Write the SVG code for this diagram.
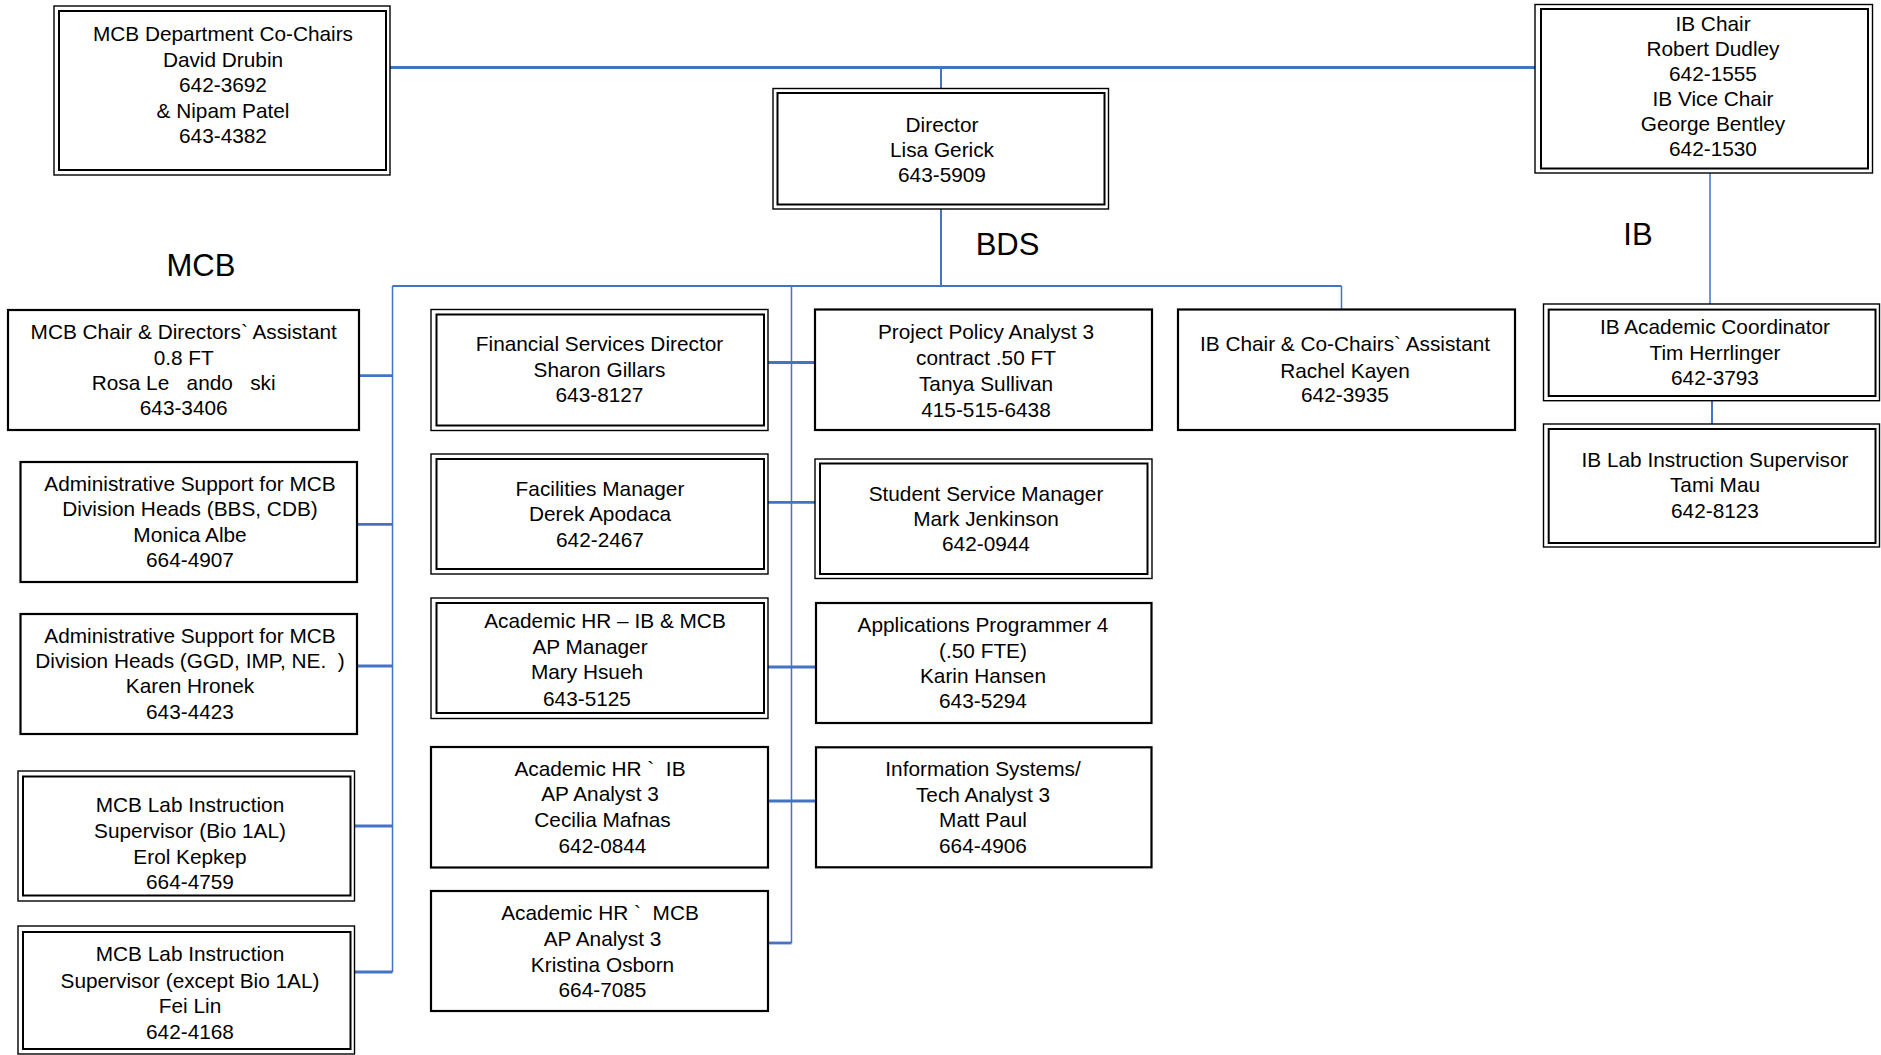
<svg xmlns="http://www.w3.org/2000/svg" width="1881" height="1055" viewBox="0 0 1881 1055">
<style>
.bg{fill:#ffffff}
.box{fill:#ffffff;stroke:#000000;stroke-width:2.2}
.outer{fill:#ffffff;stroke:#000000;stroke-width:1.4}
.inner{fill:none;stroke:#000000;stroke-width:2}
.t{font-family:"Liberation Sans",Arial,sans-serif;font-size:20.8px;fill:#000000;text-anchor:middle}
.lbl{font-family:"Liberation Sans",Arial,sans-serif;font-size:31px;fill:#000000;text-anchor:middle}
.c{fill:none;stroke:#4472C4;stroke-linecap:butt}
.thick{stroke-width:2.8}
.mid{stroke-width:2}
.thin{stroke-width:1.5}
</style>
<rect class="bg" x="0" y="0" width="1881" height="1055"/>
<g id="connectors">
  <path class="c thick" d="M390 67.5 H1535"/>
  <path class="c mid" d="M941 67.5 V88.5"/>
  <path class="c mid" d="M941 209 V286"/>
  <path class="c mid" d="M392.5 286 H1341.5"/>
  <path class="c thin" d="M1341.5 286 V309.5"/>
  <path class="c thin" d="M392.5 286 V972"/>
  <path class="c thick" d="M359 375.7 H392.5"/>
  <path class="c thick" d="M357 524.3 H392.5"/>
  <path class="c thick" d="M357 666 H392.5"/>
  <path class="c thick" d="M354.5 826 H392.5"/>
  <path class="c thick" d="M354.5 972 H392.5"/>
  <path class="c thin" d="M791.5 286 V943"/>
  <path class="c thick" d="M768 362.5 H815"/>
  <path class="c thick" d="M768 502.3 H815"/>
  <path class="c thick" d="M768 667 H816"/>
  <path class="c thick" d="M768 801 H816"/>
  <path class="c thick" d="M768 943 H791.5"/>
  <path class="c thin" d="M1710 173 V304"/>
  <path class="c mid" d="M1712 400.7 V424"/>
</g>
<g id="labels">
  <text class="lbl" x="201" y="276">MCB</text>
  <text class="lbl" x="1007.5" y="255">BDS</text>
  <text class="lbl" x="1638" y="245">IB</text>
</g>
<g id="mcb-cochairs">
  <rect class="outer" x="54" y="6" width="336" height="169"/>
  <rect class="inner" x="59" y="11" width="327" height="159"/>
  <text class="t" x="223" y="41">MCB Department Co-Chairs</text>
  <text class="t" x="223" y="66.6">David Drubin</text>
  <text class="t" x="223" y="92.2">642-3692</text>
  <text class="t" x="223" y="117.8">&amp; Nipam Patel</text>
  <text class="t" x="223" y="143.4">643-4382</text>
</g>
<g id="director">
  <rect class="outer" x="773" y="88.5" width="335.5" height="120.5"/>
  <rect class="inner" x="777.5" y="93" width="327" height="111.5"/>
  <text class="t" x="942" y="131.5">Director</text>
  <text class="t" x="942" y="156.5">Lisa Gerick</text>
  <text class="t" x="942" y="181.5">643-5909</text>
</g>
<g id="ib-chair">
  <rect class="outer" x="1535" y="4.5" width="337.5" height="168.5"/>
  <rect class="inner" x="1541" y="9" width="327" height="159.5"/>
  <text class="t" x="1713" y="30.5">IB Chair</text>
  <text class="t" x="1713" y="55.5">Robert Dudley</text>
  <text class="t" x="1713" y="80.5">642-1555</text>
  <text class="t" x="1713" y="105.5">IB Vice Chair</text>
  <text class="t" x="1713" y="130.5">George Bentley</text>
  <text class="t" x="1713" y="155.5">642-1530</text>
</g>
<g id="mcb-assistant">
  <rect class="box" x="8" y="310" width="351" height="120"/>
  <text class="t" x="183.7" y="338.5">MCB Chair &amp; Directors` Assistant</text>
  <text class="t" x="183.7" y="364.5">0.8 FT</text>
  <text class="t" x="183.7" y="389.5" xml:space="preserve">Rosa Le   ando   ski</text>
  <text class="t" x="183.7" y="414.5">643-3406</text>
</g>
<g id="admin-bbs-cdb">
  <rect class="box" x="20.5" y="462" width="336.5" height="120"/>
  <text class="t" x="190" y="490.5">Administrative Support for MCB</text>
  <text class="t" x="190" y="516">Division Heads (BBS, CDB)</text>
  <text class="t" x="190" y="541.5">Monica Albe</text>
  <text class="t" x="190" y="566.5">664-4907</text>
</g>
<g id="admin-ggd-imp">
  <rect class="box" x="20.5" y="614" width="336.5" height="120"/>
  <text class="t" x="190" y="642.5">Administrative Support for MCB</text>
  <text class="t" x="190" y="667.5" xml:space="preserve">Division Heads (GGD, IMP, NE.  )</text>
  <text class="t" x="190" y="692.5">Karen Hronek</text>
  <text class="t" x="190" y="718.5">643-4423</text>
</g>
<g id="mcb-lab-bio">
  <rect class="outer" x="18" y="771" width="336.5" height="130"/>
  <rect class="inner" x="23" y="776.5" width="327.5" height="119"/>
  <text class="t" x="190" y="812">MCB Lab Instruction</text>
  <text class="t" x="190" y="837.5">Supervisor (Bio 1AL)</text>
  <text class="t" x="190" y="863.5">Erol Kepkep</text>
  <text class="t" x="190" y="888.5">664-4759</text>
</g>
<g id="mcb-lab-except">
  <rect class="outer" x="18" y="926" width="336.5" height="128"/>
  <rect class="inner" x="23" y="932" width="327.5" height="117"/>
  <text class="t" x="190" y="961">MCB Lab Instruction</text>
  <text class="t" x="190" y="987.5">Supervisor (except Bio 1AL)</text>
  <text class="t" x="190" y="1013">Fei Lin</text>
  <text class="t" x="190" y="1038.5">642-4168</text>
</g>
<g id="financial-director">
  <rect class="outer" x="431" y="309.5" width="337" height="121"/>
  <rect class="inner" x="436.5" y="314.5" width="327.5" height="111"/>
  <text class="t" x="599.5" y="350.5">Financial Services Director</text>
  <text class="t" x="599.5" y="376.5">Sharon Gillars</text>
  <text class="t" x="599.5" y="401.5">643-8127</text>
</g>
<g id="facilities-manager">
  <rect class="outer" x="431" y="454" width="337" height="120"/>
  <rect class="inner" x="436.5" y="459" width="327.5" height="110"/>
  <text class="t" x="600" y="495.5">Facilities Manager</text>
  <text class="t" x="600" y="521">Derek Apodaca</text>
  <text class="t" x="600" y="546.5">642-2467</text>
</g>
<g id="academic-hr-ap-manager">
  <rect class="outer" x="431" y="598" width="337" height="120.5"/>
  <rect class="inner" x="436.5" y="603" width="327.5" height="110"/>
  <text class="t" x="605" y="628">Academic HR – IB &amp; MCB</text>
  <text class="t" x="590" y="653.5">AP Manager</text>
  <text class="t" x="587" y="679">Mary Hsueh</text>
  <text class="t" x="587" y="705.5">643-5125</text>
</g>
<g id="academic-hr-ib">
  <rect class="box" x="431" y="747" width="337" height="120.5"/>
  <text class="t" x="600" y="775.5" xml:space="preserve">Academic HR `  IB</text>
  <text class="t" x="600" y="801">AP Analyst 3</text>
  <text class="t" x="602.5" y="827">Cecilia Mafnas</text>
  <text class="t" x="602.5" y="852.5">642-0844</text>
</g>
<g id="academic-hr-mcb">
  <rect class="box" x="431" y="891" width="337" height="120"/>
  <text class="t" x="600" y="920" xml:space="preserve">Academic HR `  MCB</text>
  <text class="t" x="602.5" y="945.5">AP Analyst 3</text>
  <text class="t" x="602.5" y="971.5">Kristina Osborn</text>
  <text class="t" x="602.5" y="997">664-7085</text>
</g>
<g id="project-policy-analyst">
  <rect class="box" x="815" y="309.5" width="337" height="120.5"/>
  <text class="t" x="986" y="338.5">Project Policy Analyst 3</text>
  <text class="t" x="986" y="364.5">contract .50 FT</text>
  <text class="t" x="986" y="390.5">Tanya Sullivan</text>
  <text class="t" x="986" y="416.5">415-515-6438</text>
</g>
<g id="student-service-manager">
  <rect class="outer" x="815" y="459" width="337" height="119.5"/>
  <rect class="inner" x="820" y="463.5" width="327.5" height="110.5"/>
  <text class="t" x="986" y="500.5">Student Service Manager</text>
  <text class="t" x="986" y="526">Mark Jenkinson</text>
  <text class="t" x="986" y="551">642-0944</text>
</g>
<g id="applications-programmer">
  <rect class="box" x="816" y="603" width="335.5" height="120"/>
  <text class="t" x="983" y="631.5">Applications Programmer 4</text>
  <text class="t" x="983" y="657.5">(.50 FTE)</text>
  <text class="t" x="983" y="683">Karin Hansen</text>
  <text class="t" x="983" y="708">643-5294</text>
</g>
<g id="information-systems">
  <rect class="box" x="816" y="747.3" width="335.5" height="120"/>
  <text class="t" x="983" y="775.5">Information Systems/</text>
  <text class="t" x="983" y="801.5">Tech Analyst 3</text>
  <text class="t" x="983" y="827">Matt Paul</text>
  <text class="t" x="983" y="852.5">664-4906</text>
</g>
<g id="ib-assistant">
  <rect class="box" x="1178" y="309.5" width="337" height="120.5"/>
  <text class="t" x="1345" y="351">IB Chair &amp; Co-Chairs` Assistant</text>
  <text class="t" x="1345" y="378">Rachel Kayen</text>
  <text class="t" x="1345" y="402">642-3935</text>
</g>
<g id="ib-academic-coordinator">
  <rect class="outer" x="1543.5" y="304" width="336" height="96.7"/>
  <rect class="inner" x="1548.7" y="309.6" width="326.8" height="86.4"/>
  <text class="t" x="1715" y="333.5">IB Academic Coordinator</text>
  <text class="t" x="1715" y="359.5">Tim Herrlinger</text>
  <text class="t" x="1715" y="385">642-3793</text>
</g>
<g id="ib-lab-supervisor">
  <rect class="outer" x="1543.5" y="424" width="336" height="123"/>
  <rect class="inner" x="1548.7" y="429" width="326.8" height="114"/>
  <text class="t" x="1715" y="467">IB Lab Instruction Supervisor</text>
  <text class="t" x="1715" y="492">Tami Mau</text>
  <text class="t" x="1715" y="518">642-8123</text>
</g>
</svg>
